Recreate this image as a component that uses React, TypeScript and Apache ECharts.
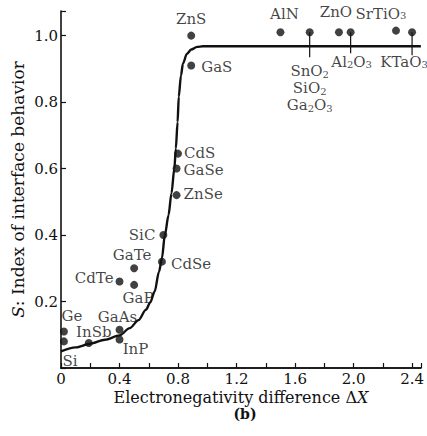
import React, { useEffect, useRef } from "react";
import * as echarts from "echarts";

// ---- data ----
const compounds = ["Si", "Ge", "InSb", "InP", "GaAs", "CdTe", "GaP", "GaTe", "CdSe", "SiC", "ZnSe", "GaSe", "CdS", "GaS", "ZnS", "AlN", "SnO2", "ZnO", "Al2O3", "SrTiO3", "KTaO3"];
const deltaX = [0.02, 0.02, 0.19, 0.40, 0.40, 0.40, 0.50, 0.50, 0.69, 0.70, 0.79, 0.79, 0.80, 0.89, 0.89, 1.50, 1.70, 1.90, 1.98, 2.29, 2.40];
const sIndex = [0.08, 0.11, 0.075, 0.086, 0.115, 0.26, 0.25, 0.30, 0.32, 0.40, 0.52, 0.60, 0.645, 0.91, 1.0, 1.01, 1.01, 1.01, 1.01, 1.015, 1.01];
const labelTexts: Record<string, string> = {
  SnO2: "SnO{s|2}\nSiO{s|2}\nGa{s|2}O{s|3}",
  Al2O3: "Al{s|2}O{s|3}",
  SrTiO3: "SrTiO{s|3}",
  KTaO3: "KTaO{s|3}",
};

// fitted curve
const curveX = [0, 0.1, 0.2, 0.3, 0.4, 0.47, 0.53, 0.58, 0.61, 0.64, 0.67, 0.69, 0.71, 0.735, 0.755, 0.775, 0.785, 0.797, 0.805, 0.82, 0.834, 0.86, 0.89, 0.93, 0.97, 2.46];
const curveS = [0.05, 0.062, 0.073, 0.085, 0.098, 0.12, 0.144, 0.175, 0.197, 0.23, 0.29, 0.33, 0.40, 0.46, 0.525, 0.6, 0.66, 0.74, 0.816, 0.88, 0.916, 0.945, 0.958, 0.966, 0.968, 0.968];

// vertical connector lines from the oxide points to their labels
const connectorX = [1.70, 1.98, 2.40];
const connectorTop = [1.01, 1.01, 1.01];
const connectorBottom = [0.935, 0.947, 0.941];

const xTicks = [0, 0.4, 0.8, 1.2, 1.6, 2.0, 2.4];
const yTicks = [0.2, 0.4, 0.6, 0.8, 1.0];

// label placement (styling only)
const placement: Record<string, { position: string; distance: number; offset: [number, number] }> = {
  Si: { position: "bottom", distance: 9, offset: [6, 0] },
  Ge: { position: "top", distance: 4, offset: [8, 0] },
  InSb: { position: "top", distance: 1, offset: [5, 1] },
  InP: { position: "bottom", distance: 0, offset: [16, -1] },
  GaAs: { position: "top", distance: 1, offset: [-2, -1] },
  CdTe: { position: "left", distance: 2, offset: [0, -4] },
  GaP: { position: "bottom", distance: 2, offset: [4, 0] },
  GaTe: { position: "top", distance: 2, offset: [-2, 0] },
  CdSe: { position: "right", distance: 5, offset: [0, 2] },
  SiC: { position: "left", distance: 4, offset: [0, 0] },
  ZnSe: { position: "right", distance: 3, offset: [0, -1] },
  GaSe: { position: "right", distance: 3, offset: [0, 1] },
  CdS: { position: "right", distance: 2, offset: [0, -1] },
  GaS: { position: "right", distance: 6, offset: [0, 1] },
  ZnS: { position: "top", distance: 6, offset: [0, 0] },
  AlN: { position: "top", distance: 7, offset: [4, 0] },
  SnO2: { position: "bottom", distance: 26, offset: [0, 0] },
  ZnO: { position: "top", distance: 9, offset: [-3, 0] },
  Al2O3: { position: "bottom", distance: 0, offset: [1, 19] },
  SrTiO3: { position: "top", distance: 6, offset: [-15, 0] },
  KTaO3: { position: "bottom", distance: 0, offset: [-8, 19] },
};

const FONT = "'DejaVu Serif', 'Liberation Serif', serif";
const INK = "#111";
const subRich = {
  s: { fontSize: 10, fontFamily: FONT, color: INK, verticalAlign: "bottom", lineHeight: 8 },
};

export default function App() {
  const ref = useRef<HTMLDivElement>(null);
  useEffect(() => {
    if (!ref.current) return;
    const chart = echarts.init(ref.current, undefined, { renderer: "svg" });
    const xMax = 2.46;
    const yMax = 1.074;
    const near = (v: number, arr: number[]) => arr.some((t) => Math.abs(t - v) < 1e-6);

    const pointData = compounds.map((name, i) => {
      const p = placement[name];
      return {
        name,
        value: [deltaX[i], sIndex[i]],
        label: {
          show: true,
          position: p.position,
          distance: p.distance,
          offset: p.offset,
          lineHeight: name === "SnO2" ? 17 : 14,
          formatter: labelTexts[name] || name,
        },
      };
    });

    const connectorSeries = connectorX.map((cx, i) => ({
      type: "line",
      data: [
        [cx, connectorTop[i]],
        [cx, connectorBottom[i]],
      ],
      symbol: "none",
      lineStyle: { color: INK, width: 1.2 },
      silent: true,
      z: 1,
    }));

    chart.setOption({
      animation: false,
      backgroundColor: "#fff",
      grid: { left: 61, top: 11, right: 0, bottom: 68 },
      graphic: [
        {
          type: "text",
          x: 245,
          y: 414,
          style: {
            text: "(b)",
            fontFamily: FONT,
            fontSize: 14,
            fontWeight: "bold",
            fill: INK,
            textAlign: "center",
            textVerticalAlign: "middle",
          },
        },
      ],
      xAxis: [
        {
          type: "value",
          min: 0,
          max: xMax,
          interval: 0.2,
          name: "Electronegativity difference Δ{i|X}",
          nameLocation: "middle",
          nameGap: 21,
          nameMoveOverlap: false,
          nameTextStyle: {
            fontFamily: FONT,
            fontSize: 16,
            color: INK,
            lineHeight: 16,
            rich: {
              i: { fontFamily: FONT, fontSize: 16, fontStyle: "italic", color: INK, lineHeight: 16 },
            },
          },
          axisLine: { show: true, onZero: false, lineStyle: { color: INK, width: 1.6 } },
          axisTick: { show: true, inside: true, length: 5, lineStyle: { color: INK, width: 1.2 } },
          splitLine: { show: false },
          axisLabel: {
            margin: 3,
            fontFamily: FONT,
            fontSize: 15,
            lineHeight: 15,
            color: INK,
            formatter: (v: number) => (near(v, xTicks) ? (v === 0 ? "0" : v.toFixed(1)) : ""),
          },
        },
        {
          type: "value",
          position: "top",
          min: 0,
          max: xMax,
          axisLine: { show: true, lineStyle: { color: INK, width: 1.6 } },
          axisTick: { show: false },
          axisLabel: { show: false },
          splitLine: { show: false },
        },
      ],
      yAxis: {
        type: "value",
        min: 0,
        max: yMax,
        interval: 0.2,
        name: "{i|S}: Index of interface behavior",
        nameLocation: "middle",
        nameGap: 35,
        nameMoveOverlap: false,
        nameTextStyle: {
          fontFamily: FONT,
          fontSize: 17,
          color: INK,
          rich: { i: { fontFamily: FONT, fontSize: 17, fontStyle: "italic", color: INK } },
        },
        axisLine: { show: true, onZero: false, lineStyle: { color: INK, width: 1.6 } },
        axisTick: { show: true, inside: true, length: 5, lineStyle: { color: INK, width: 1.2 } },
        splitLine: { show: false },
        axisLabel: {
          margin: 3,
          fontFamily: FONT,
          fontSize: 15,
          color: INK,
          formatter: (v: number) => (near(v, yTicks) ? v.toFixed(1) : ""),
        },
      },
      series: [
        {
          type: "line",
          data: curveX.map((x, i) => [x, curveS[i]]),
          symbol: "none",
          smooth: 0.3,
          smoothMonotone: "x",
          lineStyle: { color: INK, width: 2.4 },
          silent: true,
          z: 2,
        },
        ...connectorSeries,
        {
          type: "scatter",
          data: pointData,
          symbol: "circle",
          symbolSize: 8,
          itemStyle: { color: INK },
          label: {
            fontFamily: FONT,
            fontSize: 15,
            color: INK,
            lineHeight: 14,
            rich: subRich,
          },
          z: 3,
        },
      ],
    });
    return () => chart.dispose();
  }, []);
  return <div ref={ref} style={{ position: "fixed", left: 0, top: 0, width: 427, height: 436 }} />;
}
